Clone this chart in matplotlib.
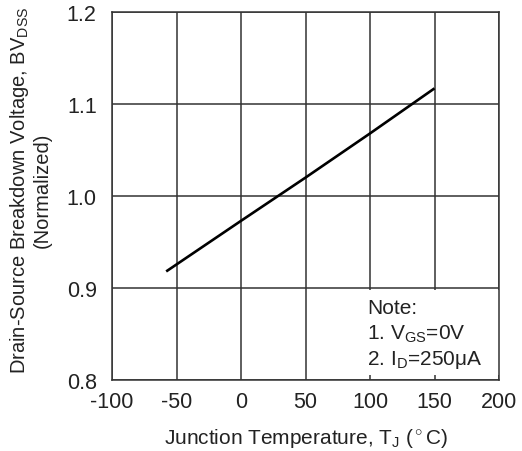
import matplotlib
matplotlib.use('Agg')
import matplotlib.pyplot as plt
from matplotlib.patches import Rectangle

plt.rcParams['font.family'] = ['Liberation Sans', 'DejaVu Sans']
plt.rcParams['mathtext.fontset'] = 'custom'
plt.rcParams['mathtext.rm'] = 'Liberation Sans'
plt.rcParams['mathtext.it'] = 'Liberation Sans:italic'

# Values
temp_c = [-58, 0, 50, 100, 150]
bv_norm = [0.918, 0.973, 1.020, 1.068, 1.117]

x_ticks = [-100, -50, 0, 50, 100, 150, 200]
y_ticks = [0.8, 0.9, 1.0, 1.1, 1.2]
note_lines = ['Note:', r'1. $\mathrm{V_{GS}}$=0V', r'2. $\mathrm{I_D}$=250$\mathrm{\mu}$A']

txt = '#222222'
fig = plt.figure(figsize=(5.22, 4.52), dpi=100)
ax = fig.add_axes([112 / 522, 71 / 452, 387 / 522, 368 / 452])

ax.plot(temp_c, bv_norm, color='black', lw=1.9, solid_capstyle='butt', zorder=3)

ax.set_xlim(-100, 200)
ax.set_ylim(0.8, 1.2)
ax.set_xticks(x_ticks)
ax.set_yticks(y_ticks)
ax.set_xticklabels([str(v) for v in x_ticks])
ax.set_yticklabels(['%.1f' % v for v in y_ticks])
ax.tick_params(length=0, labelsize=15.5, colors=txt)
ax.tick_params(axis='x', pad=8)
ax.tick_params(axis='y', pad=11)
ax.grid(True, color='#333333', lw=1.1)
ax.set_axisbelow(True)
for s in ax.spines.values():
    s.set_color('#333333')
    s.set_linewidth(1.1)

# note box hides the grid behind it
ax.add_patch(Rectangle((0.654, 0.014), 0.346, 0.23, transform=ax.transAxes,
                       facecolor='white', edgecolor='none', zorder=1))
for i, line in enumerate(note_lines):
    ax.text(0.66, 0.198 - i * 0.071, line, transform=ax.transAxes,
            fontsize=15, color=txt, va='center', ha='left', zorder=4)

ax.set_xlabel(r'Junction Temperature, T$_\mathrm{J}$ ($^\circ$C)', fontsize=15,
              color=txt, labelpad=10)
ax.set_ylabel('Drain-Source Breakdown Voltage, BV$_\\mathrm{DSS}$\n(Normalized)',
              fontsize=14.5, color=txt, linespacing=1.12)
ax.yaxis.set_label_coords(-0.155, 0.519)

fig.savefig('out.png', dpi=100)
